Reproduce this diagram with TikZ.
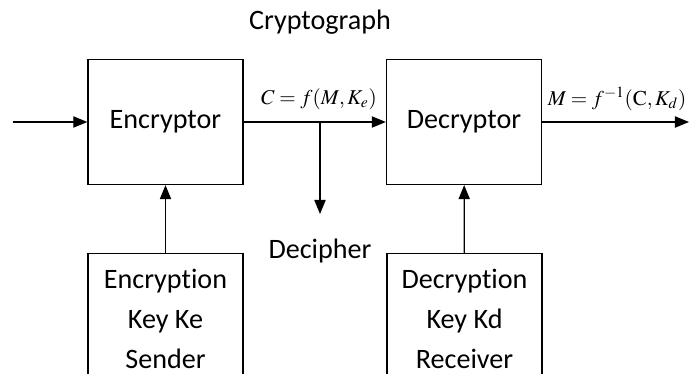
\documentclass[tikz,border=0pt]{standalone}
\usepackage{mathptmx}
\usepackage{fontspec}
\setmainfont{Carlito}[Ligatures=NoCommon]
\usepackage{tikz}
\usetikzlibrary{arrows.meta,positioning,shapes,calc}

\begin{document}
\begin{tikzpicture}[x=0.025cm, y=-0.025cm,
        block/.style={rectangle, draw=black, line width=0.9pt, minimum width=3.875cm,
                      minimum height=3.125cm, font=\fontsize{20}{28.5}\selectfont, align=center},
        keybox/.style={block, minimum height=3.25cm, anchor=north},
        arrow/.style={-{Triangle[length=10pt, width=8pt]}, line width=0.9pt},
        lbl/.style={font=\fontsize{20}{24}\selectfont},
        eq/.style={font=\fontsize{15}{18}\selectfont}
    ]
    \useasboundingbox (0,0) rectangle (689,374);

    \node[block] (enc) at (165.5,122) {Encryptor};
    \node[block] (dec) at (464,122) {Decryptor};

    \node[keybox] (ekey) at (165.5,253) {Encryption\\Key Ke\\Sender};
    \node[keybox] (dkey) at (464.5,253) {Decryption\\Key Kd\\Receiver};

    \node[lbl] (title) at (320,22) {Cryptograph};
    \node[lbl] (dcph) at (320,251) {Decipher};

    \coordinate (in) at (13,122);
    \coordinate (out) at (689,122);
    \coordinate (split) at (320,122);
    \coordinate (leak) at (320,214);

    \draw[arrow] (in) -- (enc);
    \draw[arrow] (enc) -- (dec);
    \draw[arrow] (dec) -- (out);
    \draw[arrow] (split) -- (leak);
    \draw[arrow] (ekey) -- (enc);
    \draw[arrow] (dkey) -- (dec);

    \node[eq] at (319,99) {$C = f(M, K_e)$};
    \node[eq] at (617,99) {$M = f^{-1}(\mathrm{C}, K_d)$};
\end{tikzpicture}
\end{document}
